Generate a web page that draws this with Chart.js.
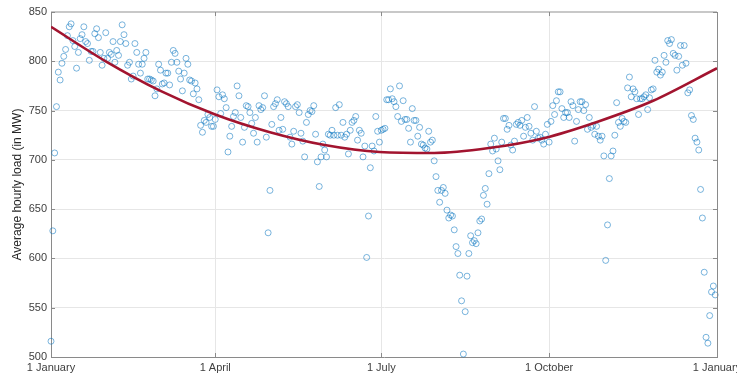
<!DOCTYPE html>
<html>
<head>
<meta charset="utf-8">
<script src="https://cdn.jsdelivr.net/npm/chart.js@4"></script>
<style>
  html, body { margin: 0; padding: 0; background: #fff; }
</style>
</head>
<body>
<canvas id="chart" width="737" height="376"></canvas>
<script>
// daily average hourly load (MW), one value per day, month by month
const jan = [516, 628, 707, 754, 789, 781, 798, 805, 812, 826, 835, 838, 821, 815, 793, 809, 823, 827, 835, 820, 818, 801, 810, 810, 828, 833, 824, 809, 796, 803, 829];
const feb = [803, 809, 807, 820, 799, 811, 806, 820, 837, 827, 818, 796, 799, 782, 785, 818, 809, 797, 788, 797, 803, 809, 782, 782, 781, 780, 765, 772];
const mar = [797, 791, 777, 778, 788, 788, 776, 799, 811, 808, 799, 790, 782, 770, 788, 803, 797, 781, 780, 767, 778, 772, 761, 735, 728, 740, 738, 746, 743, 734, 734];
const apr = [741, 771, 764, 747, 766, 762, 753, 708, 724, 734, 744, 748, 775, 765, 743, 718, 733, 755, 754, 748, 737, 727, 743, 718, 755, 751, 753, 765, 723, 626];
const may = [669, 736, 754, 757, 761, 730, 743, 731, 759, 757, 754, 723, 716, 729, 754, 756, 748, 727, 719, 703, 738, 746, 750, 749, 755, 726, 698, 673, 703, 716, 710];
const jun = [703, 726, 725, 730, 725, 753, 725, 756, 725, 738, 723, 726, 706, 730, 738, 740, 744, 720, 730, 727, 703, 714, 601, 643, 692, 714, 709, 744, 729, 718];
const jul = [730, 731, 732, 761, 761, 772, 762, 759, 754, 744, 775, 739, 760, 741, 741, 732, 718, 752, 740, 740, 724, 733, 716, 715, 712, 711, 729, 718, 720, 699, 683];
const aug = [669, 657, 669, 672, 666, 649, 641, 644, 643, 629, 612, 605, 583, 557, 503, 546, 582, 605, 623, 616, 618, 615, 626, 638, 640, 664, 671, 655, 686, 716, 709];
const sep = [722, 711, 699, 690, 718, 742, 742, 731, 735, 715, 710, 719, 736, 738, 735, 740, 724, 733, 743, 734, 727, 720, 754, 729, 722, 723, 720, 716, 726, 736];
const oct = [718, 739, 755, 746, 760, 769, 769, 752, 743, 748, 748, 743, 759, 755, 719, 739, 751, 759, 759, 750, 756, 731, 743, 733, 735, 726, 734, 724, 720, 724, 704];
const nov = [598, 634, 681, 704, 709, 725, 758, 738, 734, 742, 739, 738, 773, 784, 764, 772, 769, 762, 746, 762, 762, 764, 766, 751, 763, 771, 772, 801, 789, 792];
const dec = [786, 789, 806, 799, 821, 818, 822, 808, 806, 791, 805, 816, 796, 816, 798, 768, 771, 745, 741, 722, 718, 710, 670, 641, 586, 520, 514, 542, 566, 572, 563];

// quadratic fit
const fitDays = [0, 30, 60, 90, 120, 150, 180, 210, 240, 270, 300, 330, 365];
const fitLoad = [835, 800, 770, 746, 728, 715, 708, 707, 712, 722, 739, 760, 793];

const tickDays = [0, 90, 181, 273, 365];
const tickLabels = ['1 January', '1 April', '1 July', '1 October', '1 January'];

const points = [];
let day = 0;
[jan, feb, mar, apr, may, jun, jul, aug, sep, oct, nov, dec].forEach(m => {
  m.forEach(v => { points.push({x: day, y: v}); day++; });
});
const fit = fitDays.map((d, i) => ({x: d, y: fitLoad[i]}));

// box + inward ticks, matlab style
const frame = {
  id: 'frame',
  afterDraw(chart) {
    const {ctx, chartArea: a, scales} = chart;
    ctx.save();
    ctx.strokeStyle = '#c8c8c8';
    ctx.lineWidth = 2;
    ctx.beginPath();
    ctx.moveTo(a.left, a.top);
    ctx.lineTo(a.right, a.top);
    ctx.stroke();
    ctx.strokeStyle = '#8a8a8a';
    ctx.lineWidth = 1;
    ctx.beginPath();
    ctx.moveTo(a.right + 0.5, a.top);
    ctx.lineTo(a.right + 0.5, a.bottom);
    scales.y.ticks.forEach(t => {
      const y = Math.round(scales.y.getPixelForValue(t.value)) + 0.5;
      ctx.moveTo(a.left, y); ctx.lineTo(a.left + 4, y);
      ctx.moveTo(a.right, y); ctx.lineTo(a.right - 4, y);
    });
    scales.x.ticks.forEach(t => {
      const x = Math.round(scales.x.getPixelForValue(t.value)) + 0.5;
      ctx.moveTo(x, a.bottom); ctx.lineTo(x, a.bottom - 4);
      ctx.moveTo(x, a.top); ctx.lineTo(x, a.top + 4);
    });
    ctx.stroke();
    ctx.restore();
  }
};

new Chart(document.getElementById('chart'), {
  type: 'scatter',
  data: {
    datasets: [{
      label: 'Daily load',
      data: points,
      pointRadius: 3,
      pointBorderWidth: 0.7,
      borderColor: 'rgba(0, 114, 189, 0.75)',
      backgroundColor: 'rgba(0,0,0,0)',
      clip: false,
      order: 2
    }, {
      type: 'line',
      label: 'Fit',
      data: fit,
      borderColor: '#a2142f',
      borderWidth: 2.6,
      pointRadius: 0,
      cubicInterpolationMode: 'monotone',
      fill: false,
      order: 1
    }]
  },
  plugins: [frame],
  options: {
    responsive: false,
    animation: false,
    layout: { padding: { left: 0, top: 12, right: 20, bottom: 0 } },
    plugins: { legend: { display: false }, tooltip: { enabled: false } },
    scales: {
      x: {
        type: 'linear',
        min: 0,
        max: 365,
        afterBuildTicks: s => { s.ticks = tickDays.map(v => ({value: v})); },
        afterFit: s => { s.height = 19; s.paddingLeft = 0; s.paddingRight = 0; },
        ticks: {
          callback: (v, i) => tickLabels[i],
          color: '#404040',
          font: { family: 'Liberation Sans', size: 11 },
          padding: 4,
          maxRotation: 0,
          autoSkip: false
        },
        grid: { color: '#e6e6e6', drawTicks: false },
        border: { color: '#8a8a8a' }
      },
      y: {
        min: 500,
        max: 850,
        afterFit: s => { s.width = 51; s.paddingTop = 0; s.paddingBottom = 0; },
        ticks: {
          stepSize: 50,
          color: '#404040',
          font: { family: 'Liberation Sans', size: 11 },
          padding: 4
        },
        grid: { color: '#e6e6e6', drawTicks: false },
        border: { color: '#8a8a8a' },
        title: {
          display: true,
          text: 'Average hourly load (in MW)',
          color: '#262626',
          font: { family: 'Liberation Sans', size: 12 },
          padding: { top: 10, bottom: 2 }
        }
      }
    }
  }
});
</script>
</body>
</html>
